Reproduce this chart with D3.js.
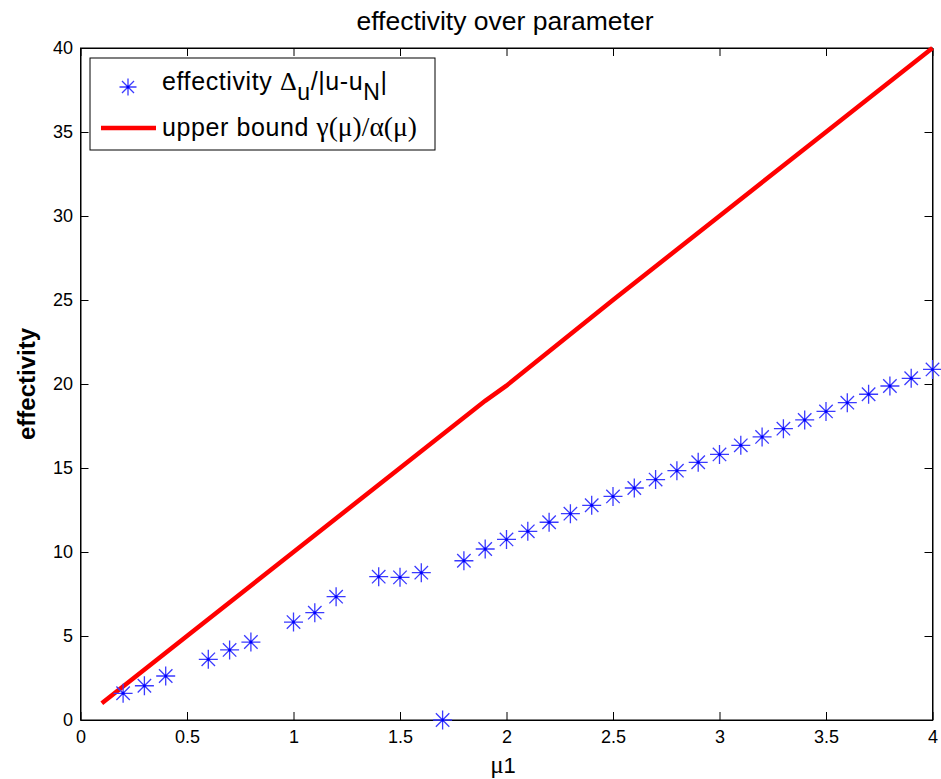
<!DOCTYPE html>
<html>
<head>
<meta charset="utf-8">
<script src="https://cdn.jsdelivr.net/npm/d3@7"></script>
<style>
  html, body { margin: 0; padding: 0; background: #fff; }
  svg { display: block; }
  text { font-family: Arial, "Liberation Sans", sans-serif; fill: #000; }
</style>
</head>
<body>
<svg id="chart" width="941" height="779"></svg>
<script>
// Parameter values where the effectivity was evaluated
const muSamples = [0.2, 0.3, 0.4, 0.6, 0.7, 0.8, 1.0, 1.1, 1.2, 1.4, 1.5, 1.6, 1.7,
  1.8, 1.9, 2.0, 2.1, 2.2, 2.3, 2.4, 2.5, 2.6, 2.7, 2.8, 2.9, 3.0, 3.1, 3.2, 3.3,
  3.4, 3.5, 3.6, 3.7, 3.8, 3.9, 4.0];
// Measured effectivity Δ_u / |u - u_N|
const effectivity = [1.59, 2.04, 2.62, 3.61, 4.17, 4.64, 5.83, 6.39, 7.34, 8.53, 8.49, 8.77, 0.0,
  9.48, 10.18, 10.75, 11.23, 11.77, 12.28, 12.78, 13.31, 13.81, 14.31, 14.84, 15.34, 15.81, 16.35,
  16.85, 17.34, 17.86, 18.37, 18.89, 19.39, 19.88, 20.34, 20.87];
// Upper bound γ(μ)/α(μ)
const boundMu = [0.1, 0.5, 1.0, 1.5, 1.9, 2.0, 2.5, 3.0, 3.5, 4.0];
const boundVal = [1.0, 5.0, 10.0, 15.0, 19.0, 19.9, 25.0, 30.0, 35.0, 40.0];
// Axis ticks
const xTicks = [0, 0.5, 1, 1.5, 2, 2.5, 3, 3.5, 4];
const yTicks = [0, 5, 10, 15, 20, 25, 30, 35, 40];

const svg = d3.select("#chart");
const plotL = 80.5, plotR = 932.5, plotT = 48, plotB = 720;

const x = d3.scaleLinear().domain([0, 4]).range([plotL, plotR]);
const y = d3.scaleLinear().domain([0, 40]).range([plotB, plotT]);

const tickLen = 8;
const fmt = d => d3.format("")(d);
const serif = "'Liberation Serif', 'Times New Roman', serif";

// Plot frame
svg.append("rect")
  .attr("x", plotL).attr("y", plotT)
  .attr("width", plotR - plotL).attr("height", plotB - plotT)
  .attr("fill", "#fff").attr("stroke", "#000").attr("stroke-width", 1);

// Axes with inward ticks
const xAxisB = svg.append("g").attr("transform", `translate(0,${plotB})`)
  .call(d3.axisBottom(x).tickValues(xTicks).tickSizeInner(-tickLen).tickSizeOuter(0).tickPadding(10.5).tickFormat(fmt));
const xAxisT = svg.append("g").attr("transform", `translate(0,${plotT})`)
  .call(d3.axisTop(x).tickValues(xTicks).tickSizeInner(-tickLen).tickSizeOuter(0).tickFormat(""));
const yAxisL = svg.append("g").attr("transform", `translate(${plotL},0)`)
  .call(d3.axisLeft(y).tickValues(yTicks).tickSizeInner(-tickLen).tickSizeOuter(0).tickPadding(7.5).tickFormat(fmt));
const yAxisR = svg.append("g").attr("transform", `translate(${plotR},0)`)
  .call(d3.axisRight(y).tickValues(yTicks).tickSizeInner(-tickLen).tickSizeOuter(0).tickFormat(""));

[xAxisB, xAxisT, yAxisL, yAxisR].forEach(g => {
  g.select(".domain").attr("stroke", "#000");
  g.selectAll(".tick line").attr("stroke", "#000");
  g.selectAll(".tick text").attr("font-size", 18).attr("font-family", "Arial, 'Liberation Sans', sans-serif").attr("fill", "#000");
});

// Upper bound line
svg.append("path")
  .datum(boundMu.map((m, i) => [m, boundVal[i]]))
  .attr("fill", "none")
  .attr("stroke", "#ff0000")
  .attr("stroke-width", 4.5)
  .attr("d", d3.line().x(d => x(d[0])).y(d => y(d[1])));

// Asterisk marker
function asterisk(g, r) {
  const d = r * Math.SQRT1_2;
  g.append("path")
    .attr("d", `M${-r},0H${r}M0,${-r}V${r}M${-d},${-d}L${d},${d}M${-d},${d}L${d},${-d}`)
    .attr("stroke", "#3a3aff").attr("stroke-width", 1.3).attr("fill", "none");
  g.append("circle").attr("r", 1.5).attr("fill", "#0000ff");
}

svg.append("g").selectAll("g")
  .data(muSamples.map((m, i) => [m, effectivity[i]]))
  .join("g")
  .attr("transform", d => `translate(${x(d[0])},${y(d[1])})`)
  .each(function () { asterisk(d3.select(this), 9.5); });

// Title and axis labels
svg.append("text")
  .attr("x", 505).attr("y", 30)
  .attr("text-anchor", "middle").attr("font-size", 26.5)
  .text("effectivity over parameter");

svg.append("text")
  .attr("transform", `translate(35,${(plotT + plotB) / 2}) rotate(-90)`)
  .attr("text-anchor", "middle").attr("font-size", 24).attr("font-weight", "bold")
  .text("effectivity");

const xl = svg.append("text")
  .attr("x", 503).attr("y", 773)
  .attr("text-anchor", "middle").attr("font-size", 22);
xl.append("tspan").attr("font-family", serif).attr("font-size", 25).text("μ");
xl.append("tspan").text("1");

// Legend
const lg = svg.append("g");
lg.append("rect")
  .attr("x", 90).attr("y", 58).attr("width", 345).attr("height", 92)
  .attr("fill", "#fff").attr("stroke", "#000").attr("stroke-width", 1);

const legMark = lg.append("g").attr("transform", "translate(128,87)");
asterisk(legMark, 8.5);

lg.append("line")
  .attr("x1", 101).attr("x2", 156).attr("y1", 128).attr("y2", 128)
  .attr("stroke", "#ff0000").attr("stroke-width", 4.5);

const t1 = lg.append("text").attr("x", 162).attr("y", 90).attr("font-size", 25).attr("letter-spacing", 0.6);
t1.append("tspan").text("effectivity ");
t1.append("tspan").attr("font-family", serif).attr("font-size", 26).text("Δ");
t1.append("tspan").attr("dy", 10).attr("font-size", 23).text("u");
t1.append("tspan").attr("dy", -10).text("/|u-u");
t1.append("tspan").attr("dy", 10).attr("font-size", 23).text("N");
t1.append("tspan").attr("dy", -10).text("|");

const t2 = lg.append("text").attr("x", 162).attr("y", 136).attr("font-size", 25).attr("letter-spacing", 0.6);
t2.append("tspan").text("upper bound ");
t2.append("tspan").attr("font-family", serif).attr("font-size", 27.5).attr("letter-spacing", 0).text("γ(μ)/α(μ)");
</script>
</body>
</html>
